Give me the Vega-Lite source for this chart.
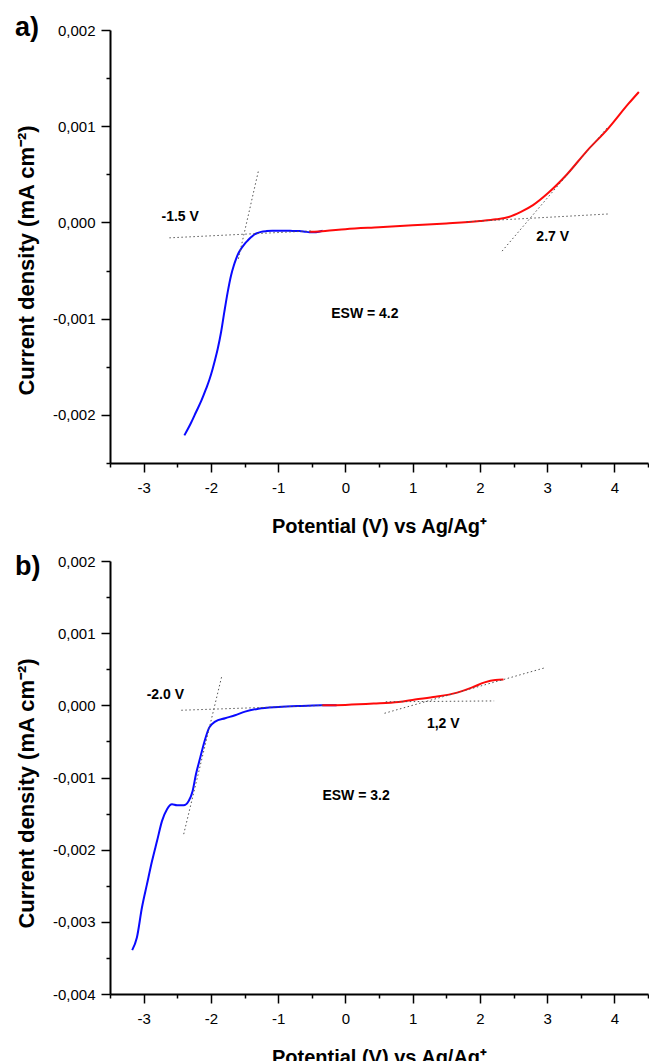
{
  "$schema": "https://vega.github.io/schema/vega-lite/v6.json",
  "background": "white",
  "padding": {"left": 15, "top": 13, "right": 0, "bottom": 0},
  "spacing": 16,
  "config": {
    "view": {"stroke": null},
    "font": "Liberation Sans",
    "axis": {
      "grid": false,
      "tickCount": 100,
      "domainColor": "black",
      "domainWidth": 2,
      "tickColor": "black",
      "tickWidth": 1.5,
      "labelFont": "Liberation Sans",
      "labelFontSize": 15,
      "labelColor": "black",
      "labelFlush": false,
      "labelBound": false,
      "labelOverlap": false,
      "titleFont": "Liberation Sans",
      "titleFontSize": 20,
      "titleFontWeight": "bold",
      "titleColor": "black"
    },
    "title": {"font": "Liberation Sans", "fontSize": 27, "fontWeight": "bold", "color": "black"}
  },
  "datasets": {
    "a_curve": [
      {"x": -2.394, "y": -0.002213, "s": "cathodic"},
      {"x": -2.30, "y": -0.00209, "s": "cathodic"},
      {"x": -2.22, "y": -0.00197, "s": "cathodic"},
      {"x": -2.14, "y": -0.00185, "s": "cathodic"},
      {"x": -2.071, "y": -0.001728, "s": "cathodic"},
      {"x": -2.02, "y": -0.00163, "s": "cathodic"},
      {"x": -1.973, "y": -0.00152, "s": "cathodic"},
      {"x": -1.935, "y": -0.00142, "s": "cathodic"},
      {"x": -1.898, "y": -0.001313, "s": "cathodic"},
      {"x": -1.848, "y": -0.001139, "s": "cathodic"},
      {"x": -1.80, "y": -0.00093, "s": "cathodic"},
      {"x": -1.75, "y": -0.000724, "s": "cathodic"},
      {"x": -1.70, "y": -0.000551, "s": "cathodic"},
      {"x": -1.66, "y": -0.00045, "s": "cathodic"},
      {"x": -1.625, "y": -0.000378, "s": "cathodic"},
      {"x": -1.59, "y": -0.00032, "s": "cathodic"},
      {"x": -1.551, "y": -0.000274, "s": "cathodic"},
      {"x": -1.50, "y": -0.000225, "s": "cathodic"},
      {"x": -1.452, "y": -0.000188, "s": "cathodic"},
      {"x": -1.40, "y": -0.000152, "s": "cathodic"},
      {"x": -1.353, "y": -0.000125, "s": "cathodic"},
      {"x": -1.30, "y": -0.000108, "s": "cathodic"},
      {"x": -1.254, "y": -0.000098, "s": "cathodic"},
      {"x": -1.17, "y": -0.00009, "s": "cathodic"},
      {"x": -1.081, "y": -0.000087, "s": "cathodic"},
      {"x": -0.98, "y": -0.000086, "s": "cathodic"},
      {"x": -0.882, "y": -0.000087, "s": "cathodic"},
      {"x": -0.78, "y": -0.000088, "s": "cathodic"},
      {"x": -0.684, "y": -0.00009, "s": "cathodic"},
      {"x": -0.60, "y": -0.000096, "s": "cathodic"},
      {"x": -0.535, "y": -0.000101, "s": "cathodic"},
      {"x": -0.436, "y": -0.000101, "s": "cathodic"},
      {"x": -0.338, "y": -0.000087, "s": "cathodic"},
      {"x": -0.535, "y": -0.000098, "s": "anodic"},
      {"x": -0.3, "y": -0.000088, "s": "anodic"},
      {"x": 0.0, "y": -0.00007, "s": "anodic"},
      {"x": 0.5, "y": -0.00005, "s": "anodic"},
      {"x": 1.0, "y": -0.00003, "s": "anodic"},
      {"x": 1.5, "y": -0.00001, "s": "anodic"},
      {"x": 2.0, "y": 0.000015, "s": "anodic"},
      {"x": 2.24, "y": 0.000033, "s": "anodic"},
      {"x": 2.43, "y": 0.000057, "s": "anodic"},
      {"x": 2.61, "y": 0.00011, "s": "anodic"},
      {"x": 2.79, "y": 0.00018, "s": "anodic"},
      {"x": 3.01, "y": 0.000303, "s": "anodic"},
      {"x": 3.29, "y": 0.000496, "s": "anodic"},
      {"x": 3.59, "y": 0.000742, "s": "anodic"},
      {"x": 3.9, "y": 0.00097, "s": "anodic"},
      {"x": 4.21, "y": 0.001234, "s": "anodic"},
      {"x": 4.364, "y": 0.001356, "s": "anodic"}
    ],
    "a_tan": [
      {"x": -1.294, "y": 0.000533, "id": 1},
      {"x": -1.591, "y": -0.000378, "id": 1},
      {"x": -2.617, "y": -0.00016, "id": 2},
      {"x": -0.5, "y": -0.000088, "id": 2},
      {"x": 1.8, "y": 0.000007, "id": 3},
      {"x": 3.936, "y": 0.000089, "id": 3},
      {"x": 2.33, "y": -0.000298, "id": 4},
      {"x": 3.9, "y": 0.00099, "id": 4}
    ],
    "a_text": [
      {"x": -2.457, "y": 0.000055, "t": "-1.5 V"},
      {"x": 3.083, "y": -0.000153, "t": "2.7 V"},
      {"x": 0.29, "y": -0.000953, "t": "ESW = 4.2"}
    ],
    "b_curve": [
      {"x": -3.17, "y": -0.003392, "s": "cathodic"},
      {"x": -3.1, "y": -0.003217, "s": "cathodic"},
      {"x": -3.025, "y": -0.002802, "s": "cathodic"},
      {"x": -2.95, "y": -0.002478, "s": "cathodic"},
      {"x": -2.874, "y": -0.002155, "s": "cathodic"},
      {"x": -2.8, "y": -0.001878, "s": "cathodic"},
      {"x": -2.726, "y": -0.001601, "s": "cathodic"},
      {"x": -2.652, "y": -0.001439, "s": "cathodic"},
      {"x": -2.578, "y": -0.00137, "s": "cathodic"},
      {"x": -2.504, "y": -0.001384, "s": "cathodic"},
      {"x": -2.405, "y": -0.001384, "s": "cathodic"},
      {"x": -2.33, "y": -0.001324, "s": "cathodic"},
      {"x": -2.271, "y": -0.001186, "s": "cathodic"},
      {"x": -2.222, "y": -0.000955, "s": "cathodic"},
      {"x": -2.158, "y": -0.000724, "s": "cathodic"},
      {"x": -2.093, "y": -0.000493, "s": "cathodic"},
      {"x": -2.025, "y": -0.000309, "s": "cathodic"},
      {"x": -1.936, "y": -0.000226, "s": "cathodic"},
      {"x": -1.788, "y": -0.000179, "s": "cathodic"},
      {"x": -1.64, "y": -0.000137, "s": "cathodic"},
      {"x": -1.492, "y": -0.000087, "s": "cathodic"},
      {"x": -1.293, "y": -0.000046, "s": "cathodic"},
      {"x": -0.997, "y": -0.000022, "s": "cathodic"},
      {"x": -0.652, "y": -0.000008, "s": "cathodic"},
      {"x": -0.356, "y": 0.0, "s": "cathodic"},
      {"x": -0.13, "y": 0.000002, "s": "cathodic"},
      {"x": -0.344, "y": 0.0, "s": "anodic"},
      {"x": 0.0, "y": 0.000006, "s": "anodic"},
      {"x": 0.422, "y": 0.000024, "s": "anodic"},
      {"x": 0.791, "y": 0.000047, "s": "anodic"},
      {"x": 1.036, "y": 0.00008, "s": "anodic"},
      {"x": 1.342, "y": 0.000118, "s": "anodic"},
      {"x": 1.649, "y": 0.000173, "s": "anodic"},
      {"x": 1.887, "y": 0.000248, "s": "anodic"},
      {"x": 2.07, "y": 0.000318, "s": "anodic"},
      {"x": 2.23, "y": 0.000352, "s": "anodic"},
      {"x": 2.351, "y": 0.000358, "s": "anodic"}
    ],
    "b_tan": [
      {"x": -1.837, "y": 0.000407, "id": 1},
      {"x": -2.404, "y": -0.001785, "id": 1},
      {"x": -2.44, "y": -0.000068, "id": 2},
      {"x": -0.3, "y": 0.0, "id": 2},
      {"x": 0.6, "y": 0.000049, "id": 3},
      {"x": 2.212, "y": 0.000061, "id": 3},
      {"x": 0.582, "y": -0.00011, "id": 4},
      {"x": 2.985, "y": 0.000525, "id": 4}
    ],
    "b_text": [
      {"x": -2.677, "y": 0.00014, "t": "-2.0 V"},
      {"x": 1.456, "y": -0.000262, "t": "1,2 V"},
      {"x": 0.159, "y": -0.001252, "t": "ESW = 3.2"}
    ]
  },
  "vconcat": [
    {
      "width": 538,
      "height": 433,
      "title": {"text": "a)", "anchor": "start", "frame": "group", "orient": "top", "baseline": "alphabetic", "dx": -95, "dy": 26, "offset": -13.5},
      "layer": [
        {
          "data": {"name": "a_curve"},
          "mark": {"type": "line", "strokeWidth": 2, "interpolate": "monotone"},
          "encoding": {
            "x": {"field": "x", "type": "quantitative", "scale": {"domain": [-3.5, 4.5], "nice": false, "zero": false},
              "axis": {"title": "Potential (V) vs Ag/Ag\u207a", "values": [-3.5, -3, -2.5, -2, -1.5, -1, -0.5, 0, 0.5, 1, 1.5, 2, 2.5, 3, 3.5, 4, 4.5],
                "labelExpr": "datum.value % 1 === 0 ? (datum.value < 0 ? '-' + abs(datum.value) : '' + datum.value) : ''",
                "tickSize": {"condition": {"test": "datum.value % 1 === 0", "value": 9}, "value": 4},
                "labelPadding": 8, "titlePadding": 21}},
            "y": {"field": "y", "type": "quantitative", "scale": {"domain": [-0.0025, 0.002], "nice": false, "zero": false},
              "axis": {"title": "Current density (mA cm\u207b\u00b2)", "values": [-0.0025, -0.002, -0.0015, -0.001, -0.0005, 0, 0.0005, 0.001, 0.0015, 0.002],
                "labelExpr": "abs(round(datum.value * 2000)) % 2 === 0 ? (datum.value < 0 ? '-' : '') + replace(format(abs(datum.value), '.3f'), '.', ',') : ''",
                "tickSize": {"condition": {"test": "abs(round(datum.value * 2000)) % 2 === 0", "value": 9}, "value": 4},
                "labelPadding": 6, "titlePadding": 14, "titleFontSize": 22, "titleY": 230}},
            "color": {"field": "s", "type": "nominal", "scale": {"domain": ["cathodic", "anodic"], "range": ["#0a0aff", "#ff0a0a"]}, "legend": null}
          }
        },
        {
          "data": {"name": "a_tan"},
          "mark": {"type": "line", "strokeDash": [1.5, 2.5], "strokeWidth": 1, "color": "#555555"},
          "encoding": {
            "x": {"field": "x", "type": "quantitative"},
            "y": {"field": "y", "type": "quantitative"},
            "detail": {"field": "id", "type": "nominal"}
          }
        },
        {
          "data": {"name": "a_text"},
          "mark": {"type": "text", "font": "Liberation Sans", "fontSize": 14, "fontWeight": "bold", "color": "black", "align": "center", "baseline": "middle"},
          "encoding": {
            "x": {"field": "x", "type": "quantitative"},
            "y": {"field": "y", "type": "quantitative"},
            "text": {"field": "t", "type": "nominal"}
          }
        }
      ]
    },
    {
      "width": 538,
      "height": 433,
      "title": {"text": "b)", "anchor": "start", "frame": "group", "orient": "top", "baseline": "alphabetic", "dx": -95, "dy": 34, "offset": -13.5},
      "layer": [
        {
          "data": {"name": "b_curve"},
          "mark": {"type": "line", "strokeWidth": 2, "interpolate": "monotone"},
          "encoding": {
            "x": {"field": "x", "type": "quantitative", "scale": {"domain": [-3.5, 4.5], "nice": false, "zero": false},
              "axis": {"title": "Potential (V) vs Ag/Ag\u207a", "values": [-3.5, -3, -2.5, -2, -1.5, -1, -0.5, 0, 0.5, 1, 1.5, 2, 2.5, 3, 3.5, 4, 4.5],
                "labelExpr": "datum.value % 1 === 0 ? (datum.value < 0 ? '-' + abs(datum.value) : '' + datum.value) : ''",
                "tickSize": {"condition": {"test": "datum.value % 1 === 0", "value": 9}, "value": 4},
                "labelPadding": 8, "titlePadding": 21}},
            "y": {"field": "y", "type": "quantitative", "scale": {"domain": [-0.004, 0.002], "nice": false, "zero": false},
              "axis": {"title": "Current density (mA cm\u207b\u00b2)", "values": [-0.004, -0.0035, -0.003, -0.0025, -0.002, -0.0015, -0.001, -0.0005, 0, 0.0005, 0.001, 0.0015, 0.002],
                "labelExpr": "abs(round(datum.value * 2000)) % 2 === 0 ? (datum.value < 0 ? '-' : '') + replace(format(abs(datum.value), '.3f'), '.', ',') : ''",
                "tickSize": {"condition": {"test": "abs(round(datum.value * 2000)) % 2 === 0", "value": 9}, "value": 4},
                "labelPadding": 6, "titlePadding": 14, "titleFontSize": 22, "titleY": 232}},
            "color": {"field": "s", "type": "nominal", "scale": {"domain": ["cathodic", "anodic"], "range": ["#0a0aff", "#ff0a0a"]}, "legend": null}
          }
        },
        {
          "data": {"name": "b_tan"},
          "mark": {"type": "line", "strokeDash": [1.5, 2.5], "strokeWidth": 1, "color": "#555555"},
          "encoding": {
            "x": {"field": "x", "type": "quantitative"},
            "y": {"field": "y", "type": "quantitative"},
            "detail": {"field": "id", "type": "nominal"}
          }
        },
        {
          "data": {"name": "b_text"},
          "mark": {"type": "text", "font": "Liberation Sans", "fontSize": 14, "fontWeight": "bold", "color": "black", "align": "center", "baseline": "middle"},
          "encoding": {
            "x": {"field": "x", "type": "quantitative"},
            "y": {"field": "y", "type": "quantitative"},
            "text": {"field": "t", "type": "nominal"}
          }
        }
      ]
    }
  ]
}
